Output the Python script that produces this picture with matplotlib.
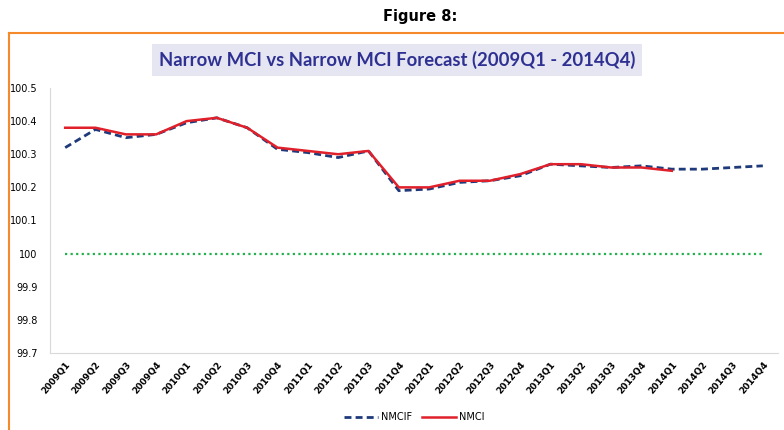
import matplotlib
matplotlib.use("Agg")
import matplotlib.pyplot as plt
from matplotlib.lines import Line2D

quarters = ["2009Q1", "2009Q2", "2009Q3", "2009Q4", "2010Q1", "2010Q2", "2010Q3", "2010Q4",
            "2011Q1", "2011Q2", "2011Q3", "2011Q4", "2012Q1", "2012Q2", "2012Q3", "2012Q4",
            "2013Q1", "2013Q2", "2013Q3", "2013Q4", "2014Q1", "2014Q2", "2014Q3", "2014Q4"]
nmcif = [100.32, 100.375, 100.35, 100.36, 100.395, 100.41, 100.38, 100.315,
         100.305, 100.29, 100.31, 100.19, 100.195, 100.215, 100.22, 100.235,
         100.27, 100.265, 100.26, 100.265, 100.255, 100.255, 100.26, 100.265]
nmci = [100.38, 100.38, 100.36, 100.36, 100.40, 100.41, 100.38, 100.32,
        100.31, 100.30, 100.31, 100.20, 100.20, 100.22, 100.22, 100.24,
        100.27, 100.27, 100.26, 100.26, 100.25]
baseline = [100.0] * len(quarters)
yticks = [99.7, 99.8, 99.9, 100, 100.1, 100.2, 100.3, 100.4, 100.5]
ytick_labels = ["99.7", "99.8", "99.9", "100", "100.1", "100.2", "100.3", "100.4", "100.5"]

W, H = 784, 430
fig = plt.figure(figsize=(W / 100, H / 100), dpi=100)
ax = fig.add_axes([50 / W, (H - 353) / H, (778 - 50) / W, (353 - 88) / H])

x = list(range(len(quarters)))
ax.plot(x, baseline, color="#22b14c", linestyle=(0, (1, 1.5)), linewidth=1.6)
ax.plot(x, nmcif, color="#1f3a7a", linestyle=(0, (2.5, 1.5)), linewidth=2.0, label="NMCIF")
ax.plot(x[:len(nmci)], nmci, color="#e0202a", linewidth=1.8, label="NMCI")

ax.set_xlim(-0.5, len(quarters) - 0.5)
ax.set_ylim(99.7, 100.5)
ax.set_yticks(yticks)
ax.set_yticklabels(ytick_labels, fontsize=7)
ax.tick_params(axis="y", length=0, pad=9)
ax.set_xticks(x)
ax.set_xticklabels(quarters, rotation=50, ha="right", rotation_mode="anchor",
                   fontsize=6.5, fontweight="bold")
ax.tick_params(axis="x", length=0, pad=5)
for s in ["top", "right"]:
    ax.spines[s].set_visible(False)
ax.spines["left"].set_color("#d9d9d9")
ax.spines["bottom"].set_color("#d9d9d9")

leg = ax.legend(loc="upper center", bbox_to_anchor=(0.5, -0.19), ncol=2, frameon=False,
                fontsize=7, handlelength=3.5, columnspacing=1.0, handletextpad=0.3)

fig.text(420 / W, 1 - 17 / H, "Figure 8:", ha="center", va="center", fontsize=10.5,
         fontweight="bold")
fig.text(397 / W, 1 - 60 / H, "Narrow MCI vs Narrow MCI Forecast (2009Q1 - 2014Q4)",
         ha="center", va="center", fontsize=13.3, fontweight="bold", color="#2e3192",
         family="Lato",
         bbox=dict(boxstyle="square,pad=0.35", facecolor="#e6e6f2", edgecolor="none"))

orange = "#f58a2a"
fig.add_artist(Line2D([9 / W, 9 / W], [0, 1 - 33 / H], color=orange, linewidth=1.5))
fig.add_artist(Line2D([9 / W, 1], [1 - 33 / H, 1 - 33 / H], color=orange, linewidth=1.5))

fig.savefig("out.png", dpi=100)
